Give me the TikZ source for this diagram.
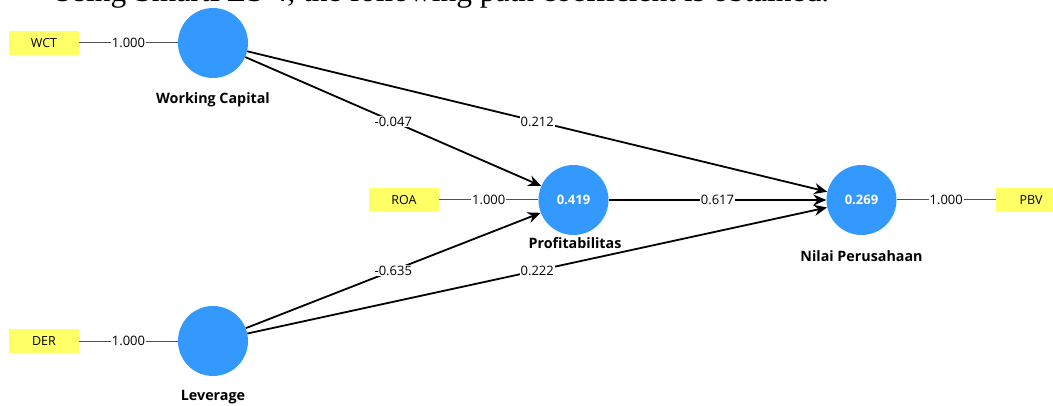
\documentclass[tikz,border=0pt]{standalone}
\usepackage{fontspec}
\setmainfont{Open Sans}
\newfontfamily\headserif{Liberation Serif}
\usetikzlibrary{arrows.meta}
\definecolor{lvblue}{HTML}{3399FF}
\definecolor{indyellow}{HTML}{FFFF66}
\definecolor{loadgray}{HTML}{505050}
\begin{document}
\begin{tikzpicture}[x=1pt,y=-1pt,
  latent/.style={circle,fill=lvblue,minimum size=70pt,inner sep=0pt,text=white,
    font=\fontsize{13}{15}\selectfont\bfseries},
  indicator/.style={fill=indyellow,minimum width=70pt,minimum height=24pt,inner sep=0pt,
    font=\fontsize{12.5}{15}\selectfont},
  lvname/.style={font=\fontsize{14.3}{17}\selectfont\bfseries},
  loadline/.style={draw=loadgray,line width=1pt},
  pathline/.style={draw=black,line width=1.8pt,-{Stealth[length=13pt,width=11pt]}},
  coef/.style={fill=white,inner sep=1pt,font=\fontsize{13}{15}\selectfont}]
\useasboundingbox (0,0) rectangle (1053,406);
\clip (0,0) rectangle (1053,406);

% heading line of the surrounding text
\node[anchor=base west,inner sep=0pt,font=\headserif\fontsize{31.5}{34}\selectfont]
  (head) at (51,1.5) {Using SmartPLS 4, the following path coefficient is obtained.};

% latent variables
\node[latent] (wc) at (213,43) {};
\node[latent] (lev) at (213,341) {};
\node[latent] (prof) at (573.5,200) {0.419};
\node[latent] (nilai) at (861.5,200) {0.269};

% latent variable names
\node[lvname] (wcname) at (213,100) {Working Capital};
\node[lvname] (levname) at (213,397) {Leverage};
\node[lvname] (profname) at (575,243) {Profitabilitas};
\node[lvname] (nilainame) at (861.5,256) {Nilai Perusahaan};

% indicators
\node[indicator] (wct) at (44,43) {WCT};
\node[indicator] (der) at (44,341) {DER};
\node[indicator] (roa) at (404,200) {ROA};
\node[indicator] (pbv) at (1031,200) {PBV};

% outer loadings
\draw[loadline] (wct) -- node[coef]{1.000} (wc);
\draw[loadline] (der) -- node[coef]{1.000} (lev);
\draw[loadline] (roa) -- node[coef]{1.000} (prof);
\draw[loadline] (nilai) -- node[coef]{1.000} (pbv);

% structural paths
\draw[pathline] (wc) -- node[coef]{-0.047} (prof);
\draw[pathline] (wc) -- node[coef]{0.212} (nilai);
\draw[pathline] (lev) -- node[coef]{-0.635} (prof);
\draw[pathline] (lev) -- node[coef]{0.222} (nilai);
\draw[pathline] (prof) -- node[coef]{0.617} (nilai);
\end{tikzpicture}
\end{document}
